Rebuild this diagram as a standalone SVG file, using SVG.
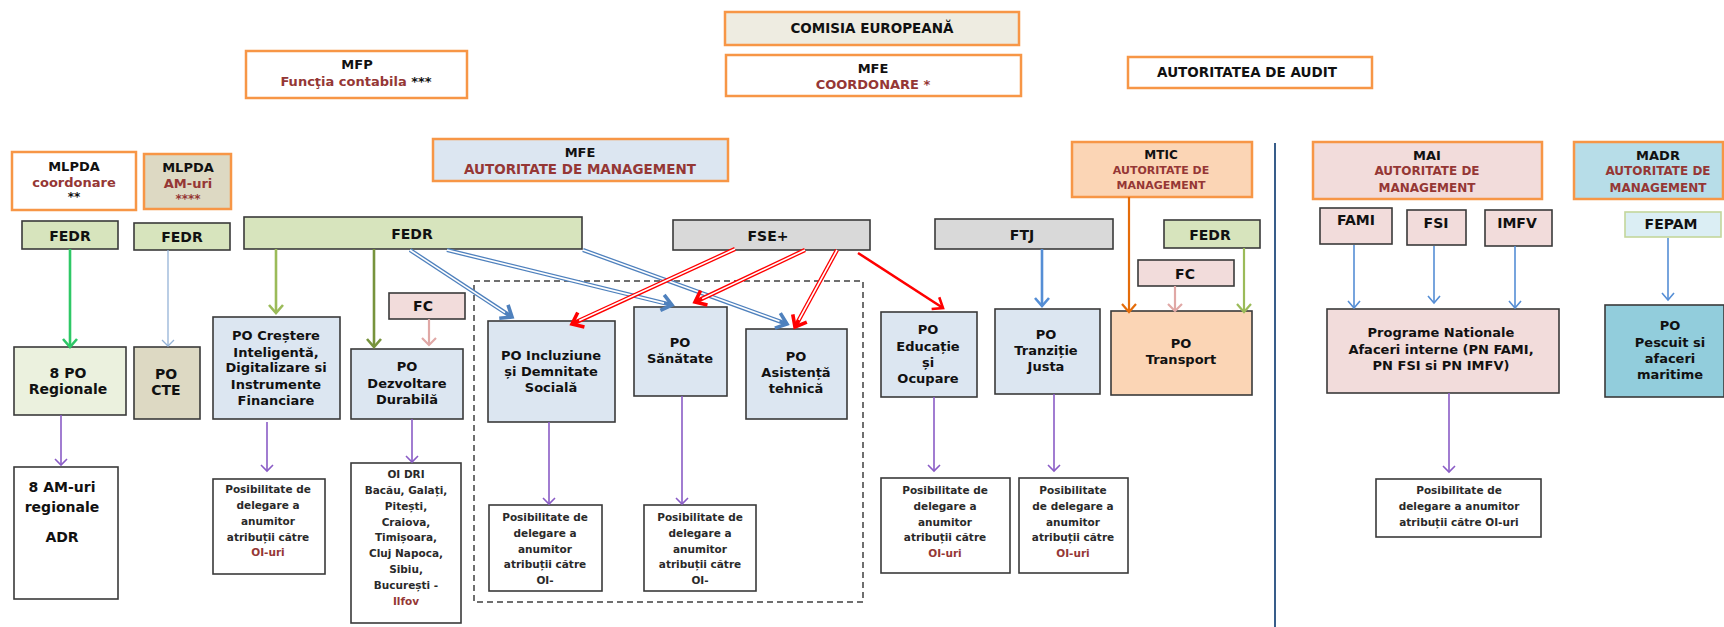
<svg xmlns="http://www.w3.org/2000/svg" width="1724" height="627" viewBox="0 0 1724 627">
<style>
text{font-family:"DejaVu Sans","Liberation Sans",sans-serif;font-weight:bold;text-anchor:middle;fill:#111}
.t13{font-size:13px}
.h{font-size:13.5px}
.t12{font-size:12px}
.t11{font-size:11px}
.t14{font-size:14px}
.s{font-size:10.5px;fill:#2a2a2a}
.rd{fill:#953735}
.org{stroke:#f79646;stroke-width:2.5}
.dk{stroke:#3a3a3a;stroke-width:1.6}
.w{fill:#ffffff}
</style>
<defs>
<marker id="mPurple" markerUnits="userSpaceOnUse" viewBox="-8 -7 10 14" refX="0" refY="0" markerWidth="10" markerHeight="14" orient="auto" overflow="visible"><path d="M-6,-6 L0,0 L-6,6" fill="none" stroke="#8a5cc6" stroke-width="1.6"/></marker>
<marker id="mGreen" markerUnits="userSpaceOnUse" viewBox="-9 -8 11 16" refX="0" refY="0" markerWidth="11" markerHeight="16" orient="auto" overflow="visible"><path d="M-8,-7 L0,0 L-8,7" fill="none" stroke="#2ec866" stroke-width="2.6"/></marker>
<marker id="mLBlue" markerUnits="userSpaceOnUse" viewBox="-8 -7 10 14" refX="0" refY="0" markerWidth="10" markerHeight="14" orient="auto" overflow="visible"><path d="M-6,-6 L0,0 L-6,6" fill="none" stroke="#95b3d7" stroke-width="1.3"/></marker>
<marker id="mOlive" markerUnits="userSpaceOnUse" viewBox="-9 -8 11 16" refX="0" refY="0" markerWidth="11" markerHeight="16" orient="auto" overflow="visible"><path d="M-8,-7 L0,0 L-8,7" fill="none" stroke="#9bbb59" stroke-width="2.6"/></marker>
<marker id="mDOlive" markerUnits="userSpaceOnUse" viewBox="-9 -8 11 16" refX="0" refY="0" markerWidth="11" markerHeight="16" orient="auto" overflow="visible"><path d="M-8,-7 L0,0 L-8,7" fill="none" stroke="#77933c" stroke-width="2.6"/></marker>
<marker id="mPink" markerUnits="userSpaceOnUse" viewBox="-9 -8 11 16" refX="0" refY="0" markerWidth="11" markerHeight="16" orient="auto" overflow="visible"><path d="M-7,-7 L0,0 L-7,7" fill="none" stroke="#e0a8a6" stroke-width="2.2"/></marker>
<marker id="mBlue" markerUnits="userSpaceOnUse" viewBox="-9 -8 11 16" refX="0" refY="0" markerWidth="11" markerHeight="16" orient="auto" overflow="visible"><path d="M-8,-7 L0,0 L-8,7" fill="none" stroke="#558ed5" stroke-width="2.6"/></marker>
<marker id="mBlueThin" markerUnits="userSpaceOnUse" viewBox="-8 -7 10 14" refX="0" refY="0" markerWidth="10" markerHeight="14" orient="auto" overflow="visible"><path d="M-7,-6 L0,0 L-7,6" fill="none" stroke="#558ed5" stroke-width="1.6"/></marker>
<marker id="mOrange" markerUnits="userSpaceOnUse" viewBox="-9 -8 11 16" refX="0" refY="0" markerWidth="11" markerHeight="16" orient="auto" overflow="visible"><path d="M-8,-7 L0,0 L-8,7" fill="none" stroke="#e46c0a" stroke-width="2.2"/></marker>
<marker id="mGreen2" markerUnits="userSpaceOnUse" viewBox="-9 -8 11 16" refX="0" refY="0" markerWidth="11" markerHeight="16" orient="auto" overflow="visible"><path d="M-8,-7 L0,0 L-8,7" fill="none" stroke="#9bbb59" stroke-width="2.2"/></marker>
<marker id="mRed" markerUnits="userSpaceOnUse" viewBox="-9 -8 11 16" refX="0" refY="0" markerWidth="11" markerHeight="16" orient="auto" overflow="visible"><path d="M-9,-7 L0,0 L-9,7" fill="none" stroke="#ff0000" stroke-width="2.6"/></marker>
<marker id="mDBlue" markerUnits="userSpaceOnUse" viewBox="-12 -10 14 20" refX="0" refY="0" markerWidth="14" markerHeight="20" orient="auto" overflow="visible"><path d="M-10,-8 L0,0 L-10,8" fill="none" stroke="#4f81bd" stroke-width="3.6"/></marker>
<marker id="mDRed" markerUnits="userSpaceOnUse" viewBox="-12 -10 14 20" refX="0" refY="0" markerWidth="14" markerHeight="20" orient="auto" overflow="visible"><path d="M-10,-8 L0,0 L-10,8" fill="none" stroke="#ff0000" stroke-width="3.6"/></marker>
</defs>
<rect width="1724" height="627" fill="#ffffff"/>

<!-- dashed frame and divider -->
<rect x="474" y="281" width="389" height="321" fill="none" stroke="#404040" stroke-width="1.5" stroke-dasharray="6,4"/>
<line x1="1275" y1="143" x2="1275" y2="627" stroke="#385d8a" stroke-width="2"/>

<!-- nodes: top -->
<g id="comisia"><rect x="725" y="12" width="294" height="33" fill="#eeece1" class="org"/><text x="872" y="33" class="h">COMISIA EUROPEANĂ</text></g>
<g id="mfe-coord"><rect x="726" y="55" width="295" height="41" class="w org"/><text x="873" y="73" class="t13">MFE</text><text x="873" y="89" class="t13 rd">COORDONARE  *</text></g>
<g id="mfp"><rect x="246" y="51" width="221" height="47" class="w org"/><text x="357" y="69" class="t13">MFP</text><text x="356" y="86" class="t13"><tspan class="rd">Funcţia contabila</tspan> ***</text></g>
<g id="audit"><rect x="1128" y="57" width="244" height="31" class="w org"/><text x="1247" y="77" class="h">AUTORITATEA  DE AUDIT</text></g>

<!-- authorities -->
<g id="mlpda-coord"><rect x="12" y="152" width="124" height="58" class="w org"/><text x="74" y="171" class="t13">MLPDA</text><text x="74" y="187" class="t13 rd">coordonare</text><text x="74" y="201" class="t12">**</text></g>
<g id="mlpda-am"><rect x="144" y="154" width="87" height="55" fill="#ddd9c3" class="org"/><text x="188" y="172" class="t13">MLPDA</text><text x="188" y="188" class="t13 rd">AM-uri</text><text x="188" y="203" class="t12 rd">****</text></g>
<g id="mfe-am"><rect x="433" y="139" width="295" height="42" fill="#dce6f1" class="org"/><text x="580" y="157" class="t13">MFE</text><text x="580" y="174" class="h rd">AUTORITATE  DE MANAGEMENT</text></g>
<g id="mtic"><rect x="1072" y="142" width="180" height="55" fill="#fbd5b5" class="org"/><text x="1161" y="159" class="t12">MTIC</text><text x="1161" y="174" class="t11 rd">AUTORITATE   DE</text><text x="1161" y="189" class="t11 rd">MANAGEMENT</text></g>
<g id="mai"><rect x="1313" y="142" width="229" height="57" fill="#f2dcdb" class="org"/><text x="1427" y="160" class="t13">MAI</text><text x="1427" y="175" class="t12 rd">AUTORITATE DE</text><text x="1427" y="192" class="t12 rd">MANAGEMENT</text></g>
<g id="madr"><rect x="1574" y="142" width="149" height="57" fill="#b7dde8" class="org"/><text x="1658" y="160" class="t13">MADR</text><text x="1658" y="175" class="t12 rd">AUTORITATE DE</text><text x="1658" y="192" class="t12 rd">MANAGEMENT</text></g>

<!-- funds -->
<g id="fedr1"><rect x="22" y="221" width="96" height="28" fill="#d7e4bd" class="dk"/><text x="70" y="241" class="t14">FEDR</text></g>
<g id="fedr2"><rect x="134" y="223" width="96" height="27" fill="#d7e4bd" class="dk"/><text x="182" y="242" class="t14">FEDR</text></g>
<g id="fedr3"><rect x="244" y="217" width="338" height="32" fill="#d7e4bd" class="dk"/><text x="412" y="239" class="t14">FEDR</text></g>
<g id="fse"><rect x="673" y="220" width="197" height="30" fill="#d9d9d9" class="dk"/><text x="768" y="241" class="t14">FSE+</text></g>
<g id="ftj"><rect x="935" y="219" width="178" height="30" fill="#d9d9d9" class="dk"/><text x="1022" y="240" class="t14">FTJ</text></g>
<g id="fedr4"><rect x="1164" y="220" width="96" height="28" fill="#d7e4bd" class="dk"/><text x="1210" y="240" class="t14">FEDR</text></g>
<g id="fc1"><rect x="389" y="293" width="76" height="26" fill="#f2dcdb" class="dk"/><text x="423" y="311" class="t14">FC</text></g>
<g id="fc2"><rect x="1138" y="260" width="96" height="26" fill="#f2dcdb" class="dk"/><text x="1185" y="279" class="t14">FC</text></g>
<g id="fami"><rect x="1320" y="208" width="72" height="36" fill="#f2dcdb" class="dk"/><text x="1356" y="225" class="t14">FAMI</text></g>
<g id="fsi"><rect x="1407" y="210" width="59" height="35" fill="#f2dcdb" class="dk"/><text x="1436" y="228" class="t14">FSI</text></g>
<g id="imfv"><rect x="1485" y="210" width="67" height="36" fill="#f2dcdb" class="dk"/><text x="1517" y="228" class="t14">IMFV</text></g>
<g id="fepam"><rect x="1625" y="212" width="96" height="25" fill="#dbeef4" stroke="#c3d69b" stroke-width="1.6"/><text x="1671" y="229" class="t14">FEPAM</text></g>

<!-- programmes -->
<g id="po-regionale"><rect x="14" y="347" width="112" height="68" fill="#ebf1de" class="dk"/><text x="68" y="378" class="t14">8 PO</text><text x="68" y="394" class="t14">Regionale</text></g>
<g id="po-cte"><rect x="134" y="347" width="66" height="72" fill="#ddd9c3" class="dk"/><text x="166" y="379" class="t14">PO</text><text x="166" y="395" class="t14">CTE</text></g>
<g id="po-crestere"><rect x="213" y="317" width="127" height="102" fill="#dce6f1" class="dk"/><text x="276" y="340" class="t13">PO Creștere</text><text x="276" y="357" class="t13">Inteligentă,</text><text x="276" y="372" class="t13">Digitalizare si</text><text x="276" y="389" class="t13">Instrumente</text><text x="276" y="405" class="t13">Financiare</text></g>
<g id="po-dezvoltare"><rect x="351" y="349" width="112" height="70" fill="#dce6f1" class="dk"/><text x="407" y="371" class="t13">PO</text><text x="407" y="388" class="t13">Dezvoltare</text><text x="407" y="404" class="t13">Durabilă</text></g>
<g id="po-incluziune"><rect x="488" y="321" width="127" height="101" fill="#dce6f1" class="dk"/><text x="551" y="360" class="t13">PO Incluziune</text><text x="551" y="376" class="t13">și Demnitate</text><text x="551" y="392" class="t13">Socială</text></g>
<g id="po-sanatate"><rect x="634" y="307" width="93" height="89" fill="#dce6f1" class="dk"/><text x="680" y="347" class="t13">PO</text><text x="680" y="363" class="t13">Sănătate</text></g>
<g id="po-asistenta"><rect x="746" y="329" width="101" height="90" fill="#dce6f1" class="dk"/><text x="796" y="361" class="t13">PO</text><text x="796" y="377" class="t13">Asistență</text><text x="796" y="393" class="t13">tehnică</text></g>
<g id="po-educatie"><rect x="881" y="312" width="96" height="85" fill="#dce6f1" class="dk"/><text x="928" y="334" class="t13">PO</text><text x="928" y="351" class="t13">Educație</text><text x="928" y="367" class="t13">și</text><text x="928" y="383" class="t13">Ocupare</text></g>
<g id="po-tranzitie"><rect x="995" y="309" width="105" height="85" fill="#dce6f1" class="dk"/><text x="1046" y="339" class="t13">PO</text><text x="1046" y="355" class="t13">Tranziție</text><text x="1046" y="371" class="t13">Justa</text></g>
<g id="po-transport"><rect x="1111" y="311" width="141" height="84" fill="#fbd5b5" class="dk"/><text x="1181" y="348" class="t13">PO</text><text x="1181" y="364" class="t13">Transport</text></g>
<g id="pn-mai"><rect x="1327" y="309" width="232" height="84" fill="#f2dcdb" class="dk"/><text x="1441" y="337" class="t13">Programe Nationale</text><text x="1441" y="354" class="t13">Afaceri interne (PN FAMI,</text><text x="1441" y="370" class="t13">PN FSI si PN IMFV)</text></g>
<g id="po-pescuit"><rect x="1605" y="305" width="119" height="92" fill="#92cddc" class="dk"/><text x="1670" y="330" class="t13">PO</text><text x="1670" y="347" class="t13">Pescuit si</text><text x="1670" y="363" class="t13">afaceri</text><text x="1670" y="379" class="t13">maritime</text></g>

<!-- bottom boxes -->
<g id="am-regionale"><rect x="14" y="467" width="104" height="132" class="w dk"/><text x="62" y="492" class="t14">8 AM-uri</text><text x="62" y="512" class="t14">regionale</text><text x="62" y="542" class="t14">ADR</text></g>
<g id="oi-crestere"><rect x="213" y="479" width="112" height="95" class="w dk"/><text x="268" y="493" class="s">Posibilitate de</text><text x="268" y="509" class="s">delegare a</text><text x="268" y="525" class="s">anumitor</text><text x="268" y="541" class="s">atribuții către</text><text x="268" y="556" class="s rd">OI-uri</text></g>
<g id="oi-dri"><rect x="351" y="463" width="110" height="160" class="w dk"/><text x="406" y="478" class="s">OI DRI</text><text x="406" y="494" class="s">Bacău, Galați,</text><text x="406" y="510" class="s">Pitești,</text><text x="406" y="526" class="s">Craiova,</text><text x="406" y="541" class="s">Timișoara,</text><text x="406" y="557" class="s">Cluj Napoca,</text><text x="406" y="573" class="s">Sibiu,</text><text x="406" y="589" class="s">București -</text><text x="406" y="605" class="s rd">Ilfov</text></g>
<g id="oi-incluziune"><rect x="489" y="505" width="113" height="86" class="w dk"/><text x="545" y="521" class="s">Posibilitate de</text><text x="545" y="537" class="s">delegare a</text><text x="545" y="553" class="s">anumitor</text><text x="545" y="568" class="s">atribuții către</text><text x="545" y="584" class="s">OI-</text></g>
<g id="oi-sanatate"><rect x="644" y="505" width="112" height="86" class="w dk"/><text x="700" y="521" class="s">Posibilitate de</text><text x="700" y="537" class="s">delegare a</text><text x="700" y="553" class="s">anumitor</text><text x="700" y="568" class="s">atribuții către</text><text x="700" y="584" class="s">OI-</text></g>
<g id="oi-educatie"><rect x="881" y="478" width="129" height="95" class="w dk"/><text x="945" y="494" class="s">Posibilitate de</text><text x="945" y="510" class="s">delegare a</text><text x="945" y="526" class="s">anumitor</text><text x="945" y="541" class="s">atribuții către</text><text x="945" y="557" class="s rd">OI-uri</text></g>
<g id="oi-tranzitie"><rect x="1019" y="478" width="109" height="95" class="w dk"/><text x="1073" y="494" class="s">Posibilitate</text><text x="1073" y="510" class="s">de delegare a</text><text x="1073" y="526" class="s">anumitor</text><text x="1073" y="541" class="s">atribuții către</text><text x="1073" y="557" class="s rd">OI-uri</text></g>
<g id="oi-mai"><rect x="1376" y="479" width="165" height="58" class="w dk"/><text x="1459" y="494" class="s">Posibilitate de</text><text x="1459" y="510" class="s">delegare a anumitor</text><text x="1459" y="526" class="s">atribuții către  OI-uri</text></g>

<!-- connectors -->
<g id="connectors" fill="none">
<line x1="70" y1="249" x2="70" y2="347" stroke="#2ec866" stroke-width="2.6" marker-end="url(#mGreen)"/>
<line x1="168" y1="250" x2="168" y2="346" stroke="#95b3d7" stroke-width="1.3" marker-end="url(#mLBlue)"/>
<line x1="276" y1="249" x2="276" y2="313" stroke="#9bbb59" stroke-width="2.6" marker-end="url(#mOlive)"/>
<line x1="374" y1="249" x2="374" y2="347" stroke="#77933c" stroke-width="2.6" marker-end="url(#mDOlive)"/>
<line x1="429" y1="319" x2="429" y2="345" stroke="#e0a8a6" stroke-width="2.2" marker-end="url(#mPink)"/>
<line x1="1042" y1="249" x2="1042" y2="306" stroke="#558ed5" stroke-width="2.6" marker-end="url(#mBlue)"/>
<line x1="1129" y1="197" x2="1129" y2="312" stroke="#e46c0a" stroke-width="2.2" marker-end="url(#mOrange)"/>
<line x1="1175" y1="286" x2="1175" y2="311" stroke="#e0a8a6" stroke-width="2.2" marker-end="url(#mPink)"/>
<line x1="1244" y1="248" x2="1244" y2="312" stroke="#9bbb59" stroke-width="2.2" marker-end="url(#mGreen2)"/>
<line x1="1354" y1="245" x2="1354" y2="308" stroke="#558ed5" stroke-width="1.6" marker-end="url(#mBlueThin)"/>
<line x1="1434" y1="246" x2="1434" y2="303" stroke="#558ed5" stroke-width="1.6" marker-end="url(#mBlueThin)"/>
<line x1="1515" y1="246" x2="1515" y2="308" stroke="#558ed5" stroke-width="1.6" marker-end="url(#mBlueThin)"/>
<line x1="1668" y1="238" x2="1668" y2="300" stroke="#558ed5" stroke-width="1.6" marker-end="url(#mBlueThin)"/>
<line x1="858" y1="253" x2="943" y2="308" stroke="#ff0000" stroke-width="2.6" marker-end="url(#mRed)"/>
<line x1="61" y1="415" x2="61" y2="465" stroke="#8a5cc6" stroke-width="1.6" marker-end="url(#mPurple)"/>
<line x1="267" y1="422" x2="267" y2="471" stroke="#8a5cc6" stroke-width="1.6" marker-end="url(#mPurple)"/>
<line x1="412" y1="419" x2="412" y2="462" stroke="#8a5cc6" stroke-width="1.6" marker-end="url(#mPurple)"/>
<line x1="549" y1="422" x2="549" y2="504" stroke="#8a5cc6" stroke-width="1.6" marker-end="url(#mPurple)"/>
<line x1="682" y1="396" x2="682" y2="504" stroke="#8a5cc6" stroke-width="1.6" marker-end="url(#mPurple)"/>
<line x1="934" y1="397" x2="934" y2="471" stroke="#8a5cc6" stroke-width="1.6" marker-end="url(#mPurple)"/>
<line x1="1054" y1="394" x2="1054" y2="471" stroke="#8a5cc6" stroke-width="1.6" marker-end="url(#mPurple)"/>
<line x1="1449" y1="393" x2="1449" y2="472" stroke="#8a5cc6" stroke-width="1.6" marker-end="url(#mPurple)"/>
<!-- double blue -->
<line x1="410" y1="250" x2="512" y2="317" stroke="#4f81bd" stroke-width="4.2" marker-end="url(#mDBlue)"/>
<line x1="410" y1="250" x2="505" y2="312.6" stroke="#ffffff" stroke-width="1.6"/>
<line x1="447" y1="250" x2="672" y2="305" stroke="#4f81bd" stroke-width="4.2" marker-end="url(#mDBlue)"/>
<line x1="447" y1="250" x2="664" y2="303.1" stroke="#ffffff" stroke-width="1.6"/>
<line x1="583" y1="250" x2="787" y2="324" stroke="#4f81bd" stroke-width="4.2" marker-end="url(#mDBlue)"/>
<line x1="583" y1="250" x2="779.5" y2="321.3" stroke="#ffffff" stroke-width="1.6"/>
<!-- double red -->
<line x1="735" y1="249" x2="572" y2="324" stroke="#ff0000" stroke-width="4.2" marker-end="url(#mDRed)"/>
<line x1="735" y1="249" x2="579.2" y2="320.6" stroke="#ffffff" stroke-width="1.6"/>
<line x1="805" y1="250" x2="695" y2="302" stroke="#ff0000" stroke-width="4.2" marker-end="url(#mDRed)"/>
<line x1="805" y1="250" x2="702.2" y2="298.6" stroke="#ffffff" stroke-width="1.6"/>
<line x1="837" y1="250" x2="795" y2="327" stroke="#ff0000" stroke-width="4.2" marker-end="url(#mDRed)"/>
<line x1="837" y1="250" x2="798.8" y2="320" stroke="#ffffff" stroke-width="1.6"/>
</g>
</svg>
